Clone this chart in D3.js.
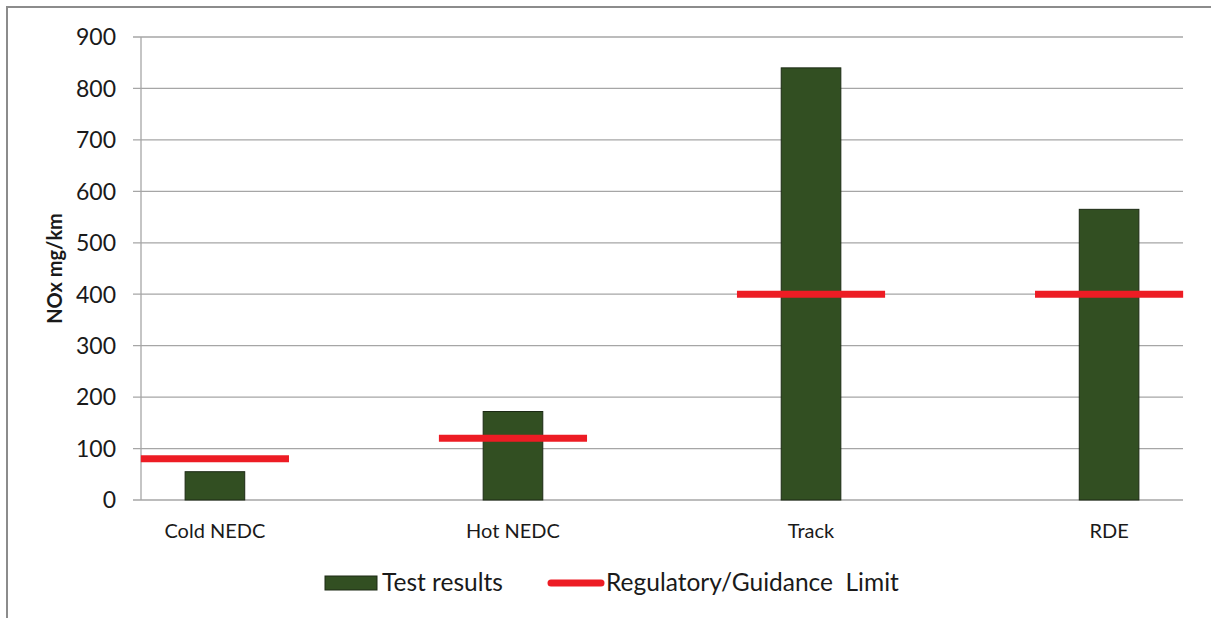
<!DOCTYPE html>
<html>
<head>
<meta charset="utf-8">
<script src="https://cdn.jsdelivr.net/npm/d3@7"></script>
<style>
  body { margin: 0; background: #fff; }
  text { font-family: Lato, "Open Sans", sans-serif; fill: #1a1a1a; }
</style>
</head>
<body>
<div id="chart"></div>
<script>
var categories = ["Cold NEDC", "Hot NEDC", "Track", "RDE"];
var testResults = [55, 172, 840, 565];
var limits = [80, 120, 400, 400];
var yTicks = [0, 100, 200, 300, 400, 500, 600, 700, 800, 900];

var W = 1211, H = 618;
var svg = d3.select("#chart")
    .append("svg")
    .attr("width", W)
    .attr("height", H)

// outer frame (top + left visible)
svg.append("path")
    .attr("d", "M7,618 L7,7 L1211,7")
    .attr("fill", "none")
    .attr("stroke", "#8c8c8c")
    .attr("stroke-width", 2)

var plotL = 141, plotR = 1183, plotT = 37, plotB = 500;

var y = d3.scaleLinear().domain([0, 900]).range([plotB, plotT]);
var x = d3.scalePoint().domain(categories).range([plotL, plotR]).padding(0.248);
var step = x.step();

// gridlines
svg.selectAll(".grid")
    .data(yTicks)
    .enter()
        .append("line")
        .attr("class", "grid")
        .attr("x1", plotL - 8)
        .attr("x2", plotR)
        .attr("y1", function(d){return y(d);})
        .attr("y2", function(d){return y(d);})
        .attr("stroke", "#a6a6a6")
        .attr("stroke-width", 1.3)

// y axis line
svg.append("line")
    .attr("x1", plotL).attr("x2", plotL)
    .attr("y1", plotT).attr("y2", plotB)
    .attr("stroke", "#a6a6a6")
    .attr("stroke-width", 1.3)

svg.selectAll(".ylab")
    .data(yTicks)
    .enter()
        .append("text")
        .attr("class", "ylab")
        .attr("x", 116)
        .attr("y", function(d){return y(d);})
        .attr("dy", "0.36em")
        .attr("text-anchor", "end")
        .style("font-size", "23px")
        .text(function(d){return d;})

svg.append("text")
    .attr("transform", "translate(62," + ((plotT + plotB) / 2) + ") rotate(-90)")
    .attr("text-anchor", "middle")
    .style("font-size", "20px")
    .style("font-weight", "bold")
    .text("NOx mg/km")

// bars
var barW = step * 0.2;
svg.selectAll(".bar")
    .data(testResults)
    .enter()
        .append("rect")
        .attr("class", "bar")
        .attr("x", function(d, i){return x(categories[i]) - barW / 2;})
        .attr("y", function(d){return y(d);})
        .attr("width", barW)
        .attr("height", function(d){return plotB - y(d);})
        .attr("fill", "#324f22")
        .attr("stroke", "#1c2a14")
        .attr("stroke-width", 1)

// limit lines
var limW = step * 0.497;
svg.selectAll(".limit")
    .data(limits)
    .enter()
        .append("line")
        .attr("class", "limit")
        .attr("x1", function(d, i){return x(categories[i]) - limW / 2;})
        .attr("x2", function(d, i){return x(categories[i]) + limW / 2;})
        .attr("y1", function(d){return y(d);})
        .attr("y2", function(d){return y(d);})
        .attr("stroke", "#ed1c24")
        .attr("stroke-width", 7)

svg.selectAll(".xlab")
    .data(categories)
    .enter()
        .append("text")
        .attr("class", "xlab")
        .attr("x", function(d){return x(d);})
        .attr("y", 538)
        .attr("text-anchor", "middle")
        .style("font-size", "20px")
        .text(function(d){return d;})

// legend
svg.append("rect")
    .attr("x", 325).attr("y", 576)
    .attr("width", 52).attr("height", 14)
    .attr("fill", "#324f22")
    .attr("stroke", "#1c2a14")
svg.append("text")
    .attr("x", 382).attr("y", 591)
    .style("font-size", "24.5px")
    .text("Test results")
svg.append("line")
    .attr("x1", 551).attr("x2", 601)
    .attr("y1", 583).attr("y2", 583)
    .attr("stroke", "#ed1c24")
    .attr("stroke-width", 7)
    .attr("stroke-linecap", "round")
svg.append("text")
    .attr("x", 606).attr("y", 591)
    .style("font-size", "24.5px")
    .attr("xml:space", "preserve")
    .text("Regulatory/Guidance  Limit")
</script>
</body>
</html>
